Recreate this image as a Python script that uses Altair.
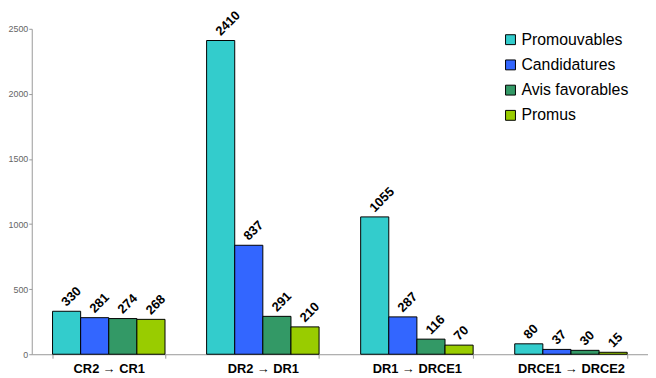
import altair as alt
import pandas as pd

categories = ["CR2  \u2192  CR1", "DR2  \u2192  DR1", "DR1  \u2192  DRCE1", "DRCE1 \u2192 DRCE2"]
series = ["Promouvables", "Candidatures", "Avis favorables", "Promus"]
promouvables = [330, 2410, 1055, 80]
candidatures = [281, 837, 287, 37]
avis_favorables = [274, 291, 116, 30]
promus = [268, 210, 70, 15]
colors = ["#33CCCC", "#3366FF", "#339966", "#99CC00"]

rows = []
for s, vals in zip(series, [promouvables, candidatures, avis_favorables, promus]):
    for c, v in zip(categories, vals):
        rows.append({"cat": c, "serie": s, "val": v})
df = pd.DataFrame(rows)

FONT = "Liberation Sans"

x = alt.X("cat:N", sort=categories, title=None,
          scale=alt.Scale(paddingInner=0.27, paddingOuter=0.135),
          axis=alt.Axis(labelAngle=0, labelFont=FONT, labelFontSize=13, labelFontWeight="bold",
                        labelColor="black", labelPadding=4, domainColor="#999999",
                        tickColor="#999999", tickSize=4, tickBand="extent"))
xo = alt.XOffset("serie:N", sort=series, scale=alt.Scale(paddingInner=0, paddingOuter=0))
y = alt.Y("val:Q", title=None,
          scale=alt.Scale(domain=[0, 2500], nice=False),
          axis=alt.Axis(values=[0, 500, 1000, 1500, 2000, 2500], format="d", grid=False,
                        labelFont=FONT, labelFontSize=9, labelColor="#666666",
                        domainColor="#999999", tickColor="#999999", tickSize=3, labelPadding=1))

bars = alt.Chart(df).mark_bar(stroke="black", strokeWidth=1).encode(
    x=x, xOffset=xo, y=y,
    color=alt.Color("serie:N", sort=series, scale=alt.Scale(domain=series, range=colors),
                    legend=alt.Legend(title=None, orient="none", legendX=476, legendY=3,
                                      symbolType="square", symbolSize=100, symbolStrokeColor="black",
                                      symbolStrokeWidth=1, labelFont=FONT, labelFontSize=16,
                                      labelColor="black", rowPadding=9.5, labelOffset=3))
)

labels = alt.Chart(df).mark_text(angle=315, align="left", baseline="middle", dx=3, dy=-7,
                                 font=FONT, fontSize=13, fontWeight="bold", color="black").encode(
    x=x, xOffset=xo, y=y, text=alt.Text("val:Q")
)

chart = alt.layer(bars, labels).properties(
    width=623, height=329,
    padding={"left": 24, "top": 19, "right": 0, "bottom": 22},
    autosize=alt.AutoSizeParams(type="none"),
).configure_view(stroke=None).configure_axis(labelFont=FONT)

chart.save("out.html", embed_options={"renderer": "svg", "actions": False})
